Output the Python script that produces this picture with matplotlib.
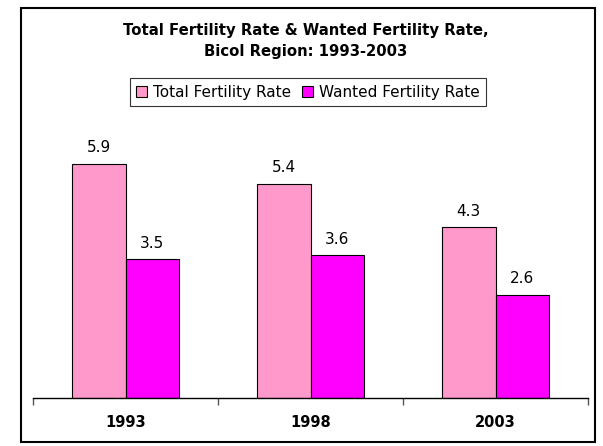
import matplotlib
matplotlib.use('Agg')
import matplotlib.pyplot as plt
from matplotlib.patches import Rectangle
import numpy as np

years = ['1993', '1998', '2003']
total_fr = [5.9, 5.4, 4.3]
wanted_fr = [3.5, 3.6, 2.6]

fig = plt.figure(figsize=(6.03, 4.46), dpi=100)
ax = fig.add_axes([33/603, 48/446, 555/603, 278/446])

x = np.arange(len(years))
w = 0.29
b1 = ax.bar(x - w/2, total_fr, w, color='#FF99CC', edgecolor='black', linewidth=0.8,
            label='Total Fertility Rate')
b2 = ax.bar(x + w/2, wanted_fr, w, color='#FF00FF', edgecolor='black', linewidth=0.8,
            label='Wanted Fertility Rate')
for bars in (b1, b2):
    ax.bar_label(bars, fmt='%.1f', padding=6, fontsize=11)

ax.set_xlim(-0.5, 2.5)
ax.set_ylim(0, 7)
for s in ['top', 'right', 'left']:
    ax.spines[s].set_visible(False)
ax.spines['bottom'].set_linewidth(1.0)
ax.set_yticks([])
ax.set_xticks(x)
ax.set_xticklabels(years, fontsize=10.5, fontweight='bold')
ax.tick_params(axis='x', which='major', length=0, pad=12)
ax.set_xticks([-0.5, 0.5, 1.5, 2.5], minor=True)
ax.tick_params(axis='x', which='minor', length=5, color='#555555', width=1)

fig.text(306/603, 1 - 41/446, 'Total Fertility Rate & Wanted Fertility Rate,\nBicol Region: 1993-2003',
         ha='center', va='center', fontsize=10.7, fontweight='bold', linespacing=1.45)

leg = fig.legend(handles=[b1, b2], loc='center', bbox_to_anchor=(308/603, 1 - 92/446),
                 ncol=2, fontsize=11, frameon=True, fancybox=False, edgecolor='black',
                 handlelength=0.7, handleheight=0.7, handletextpad=0.4, columnspacing=0.7,
                 borderpad=0.45)
leg.get_frame().set_linewidth(0.8)

fig.patches.append(Rectangle((21/603, 1 - 442/446), 574/603, 434/446, transform=fig.transFigure,
                             fill=False, edgecolor='black', linewidth=1.5))

fig.savefig('out.png', dpi=100)
